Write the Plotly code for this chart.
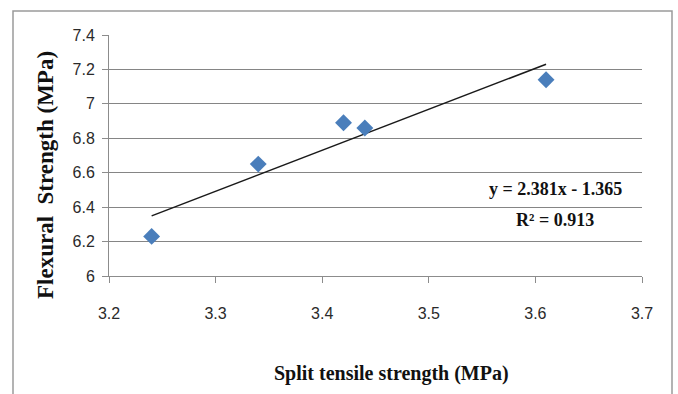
import numpy as np
import plotly.graph_objects as go

# Data
split_tensile = [3.24, 3.34, 3.42, 3.44, 3.61]
flexural = [6.23, 6.65, 6.89, 6.86, 7.14]
x_ticks = [3.2, 3.3, 3.4, 3.5, 3.6, 3.7]
y_ticks = [6.0, 6.2, 6.4, 6.6, 6.8, 7.0, 7.2, 7.4]
# Trendline as printed on the chart
trend_slope = 2.381
trend_intercept = -1.365
trend_r2 = 0.913

trend_x = [min(split_tensile), max(split_tensile)]
trend_y = list(np.polyval([trend_slope, trend_intercept], trend_x))

fig = go.Figure()
fig.add_trace(go.Scatter(x=trend_x, y=trend_y, mode="lines",
                         line=dict(color="#1a1a1a", width=1.5), showlegend=False,
                         hoverinfo="skip"))
fig.add_trace(go.Scatter(x=split_tensile, y=flexural, mode="markers",
                         marker=dict(symbol="diamond", size=13, color="#4A7EBB"),
                         showlegend=False))

tick_font = dict(family="Liberation Sans, Arial, sans-serif", size=16, color="#2a2a2a")
fig.update_xaxes(range=[3.2, 3.7], tickvals=x_ticks, ticktext=[f"{v:g}" for v in x_ticks],
                 showgrid=False, showline=True, linecolor="#8c8c8c", linewidth=1,
                 ticks="outside", ticklen=6, tickcolor="#8c8c8c", tickfont=tick_font,
                 ticklabelstandoff=17, zeroline=False)
fig.update_yaxes(range=[6.0, 7.4], tickvals=y_ticks, ticktext=[f"{v:g}" for v in y_ticks],
                 showgrid=True, gridcolor="#858585", gridwidth=1.2,
                 showline=True, linecolor="#8c8c8c", linewidth=1,
                 ticks="outside", ticklen=6, tickcolor="#8c8c8c", tickfont=tick_font,
                 ticklabelstandoff=4, zeroline=False)

title_font = dict(family="Liberation Serif, Times New Roman, serif", size=20, color="#111111")
ann = []
ann.append(dict(text="<b>Split tensile strength (MPa)</b>", xref="paper", yref="paper",
                x=(391 - 109) / 533, y=(276 - 373) / 241, showarrow=False,
                xanchor="center", yanchor="middle", font=title_font))
ann.append(dict(text="<b>Flexural  Strength (MPa)</b>", xref="paper", yref="paper",
                x=(46 - 109) / 533, y=(276 - 175) / 241, showarrow=False, textangle=-90,
                xanchor="center", yanchor="middle",
                font=dict(family="Liberation Serif, Times New Roman, serif", size=23, color="#111111")))
eq_font = dict(family="Liberation Serif, Times New Roman, serif", size=18, color="#111111")
ann.append(dict(text=f"<b>y = {trend_slope:.3f}x - {abs(trend_intercept):.3f}</b>", xref="paper", yref="paper",
                x=(555 - 109) / 533, y=(276 - 189) / 241, showarrow=False,
                xanchor="center", yanchor="middle", font=eq_font))
ann.append(dict(text=f"<b>R² = {trend_r2:.3f}</b>", xref="paper", yref="paper",
                x=(555 - 109) / 533, y=(276 - 220) / 241, showarrow=False,
                xanchor="center", yanchor="middle", font=eq_font))

fig.update_layout(
    width=678, height=394,
    margin=dict(l=109, r=36, t=35, b=118),
    plot_bgcolor="white", paper_bgcolor="white",
    annotations=ann,
    shapes=[dict(type="rect", xref="paper", yref="paper",
                 x0=(13 - 109) / 533, x1=(672 - 109) / 533,
                 y0=(276 - 420) / 241, y1=(276 - 11) / 241,
                 line=dict(color="#9a9a9a", width=1.5), layer="below")],
)

fig.write_html("out.html")
